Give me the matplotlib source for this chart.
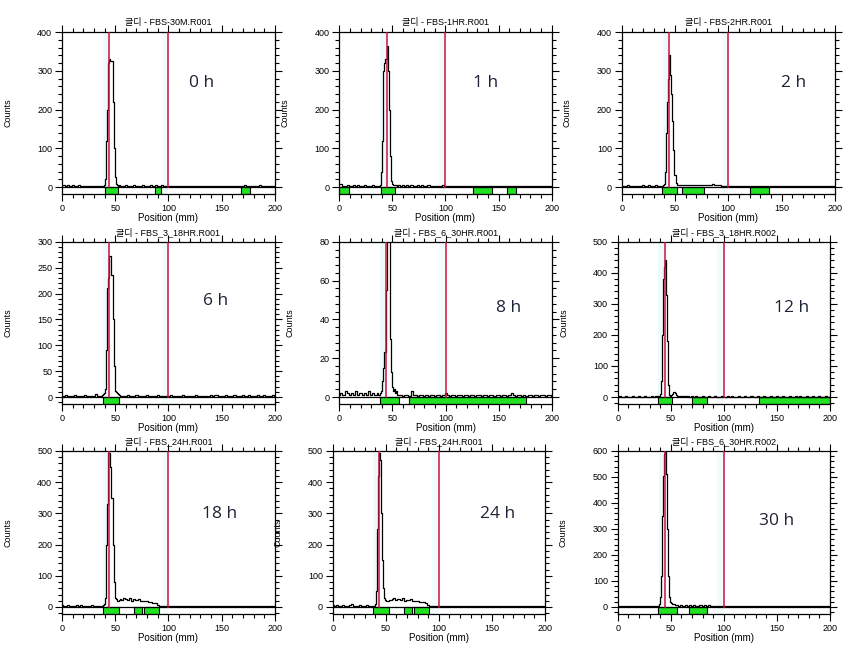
import matplotlib.pyplot as plt
from matplotlib.ticker import MultipleLocator, AutoMinorLocator

plt.rcParams['font.family'] = ['Liberation Sans', 'Noto Sans CJK KR']

# scan positions (mm): coarse on the baseline, 1 mm across the peak
positions = list(range(0, 37, 2)) + list(range(37, 57)) + list(range(58, 201, 2))

titles = ["글디 - FBS-30M.R001", "글디 - FBS-1HR.R001", "글디 - FBS-2HR.R001",
          "글디 - FBS_3_18HR.R001", "글디 - FBS_6_30HR.R001", "글디 - FBS_3_18HR.R002",
          "글디 - FBS_24H.R001", "글디 - FBS_24H.R001", "글디 - FBS_6_30HR.R002"]
time_labels = ["0 h", "1 h", "2 h", "6 h", "8 h", "12 h", "18 h", "24 h", "30 h"]
y_max = [400, 400, 400, 300, 80, 500, 500, 500, 600]
y_major = [100, 100, 100, 50, 20, 100, 100, 100, 100]
origin_mm = [44.4, 44.5, 44.6, 44.4, 44.2, 44.3, 44.4, 43.9, 44.6]
front_mm = [100, 100, 100, 100, 100, 100, 100, 100, 100]

regions = [
    [(40, 53), (87, 93), (168, 177)],
    [(0, 9), (39, 52), (126, 144), (158, 166)],
    [(38, 52), (57, 77), (120, 138)],
    [(39, 54)],
    [(38, 56), (66, 176)],
    [(38, 51), (70, 84), (133, 200)],
    [(39, 54), (68, 75), (77, 91)],
    [(38, 53), (67, 75), (77, 91)],
    [(38, 56), (67, 84)],
]

counts_0h = [6, 5, 4, 6, 3, 5, 4, 3, 5, 2, 4, 3, 4, 2, 3, 4, 2, 3, 3,
             3, 3, 4, 6, 20, 120, 200, 320, 330, 325, 325, 220, 100, 25, 8, 6, 4, 5, 3, 4,
             3, 5, 2, 4, 3, 6, 2, 4, 3, 5, 3, 2, 4, 5, 3, 6, 4, 3, 5, 2,
             4, 3, 2, 3, 4, 2, 3, 2, 4, 3, 2, 3, 2, 4, 2, 3, 2, 3, 2, 4,
             3, 2, 3, 2, 3, 4, 2, 3, 2, 3, 2, 3, 4, 3, 2, 4, 3, 5, 3, 2,
             3, 4, 2, 3, 5, 3, 4, 3, 3, 4, 3, 2]
counts_1h = [8, 7, 4, 3, 5, 3, 4, 5, 3, 6, 4, 3, 5, 3, 4, 3, 5, 4, 3,
             3, 4, 6, 40, 120, 300, 320, 330, 365, 300, 200, 80, 15, 8, 6, 5, 6, 5, 4, 5,
             4, 5, 3, 6, 4, 5, 3, 4, 6, 4, 5, 3, 4, 5, 3, 4, 3, 2, 4, 3,
             5, 3, 2, 4, 3, 2, 3, 4, 2, 3, 2, 3, 4, 2, 3, 2, 3, 2, 4, 3,
             2, 3, 2, 3, 4, 2, 3, 2, 3, 2, 3, 4, 2, 3, 2, 3, 2, 3, 4, 2,
             3, 2, 3, 4, 2, 3, 2, 3, 4, 2, 3, 2]
counts_2h = [2, 4, 3, 5, 2, 4, 3, 2, 4, 3, 5, 3, 4, 6, 3, 4, 5, 3, 4,
             3, 4, 5, 8, 40, 140, 220, 280, 340, 290, 240, 170, 95, 30, 10, 6, 5, 5, 6, 5,
             5, 6, 5, 6, 5, 6, 6, 5, 6, 5, 6, 5, 6, 5, 7, 6, 5, 5, 4, 3,
             3, 2, 3, 2, 3, 4, 2, 3, 2, 3, 2, 3, 2, 3, 2, 4, 2, 3, 2, 3,
             2, 3, 2, 4, 3, 2, 3, 2, 3, 2, 3, 2, 3, 4, 2, 3, 2, 3, 2, 3,
             2, 3, 2, 3, 4, 2, 3, 2, 3, 4, 2, 3]
counts_6h = [2, 1, 3, 2, 1, 2, 3, 1, 2, 2, 1, 3, 2, 1, 2, 2, 6, 2, 1,
             2, 3, 5, 8, 15, 90, 210, 230, 272, 272, 235, 150, 60, 12, 9, 8, 5, 3, 2, 2,
             2, 1, 3, 2, 1, 2, 3, 1, 2, 1, 2, 3, 1, 2, 1, 2, 3, 2, 1, 2,
             1, 2, 3, 1, 2, 1, 2, 1, 3, 2, 1, 2, 1, 2, 3, 1, 2, 1, 2, 1,
             2, 3, 2, 4, 3, 2, 1, 2, 3, 2, 1, 2, 3, 2, 1, 2, 3, 1, 2, 3,
             2, 1, 2, 3, 1, 2, 3, 2, 1, 2, 3, 1]
counts_8h = [1, 2, 1, 3, 2, 1, 2, 1, 3, 1, 2, 1, 2, 1, 3, 1, 2, 1, 2,
             1, 1, 2, 3, 8, 15, 23, 55, 95, 100, 85, 30, 13, 5, 3, 4, 2, 3, 1, 1,
             1, 0.5, 1, 1, 0.5, 3, 1, 1, 0.5, 1, 1, 0.5, 1, 0.5, 1, 1, 0.5, 1, 1, 0.5,
             1, 2, 1, 0.5, 1, 1, 0.5, 1, 1, 0.5, 1, 1, 0.5, 1, 1, 0.5, 1, 1, 0.5, 1,
             1, 0.5, 1, 1, 0.5, 1, 1, 0.5, 1, 1, 0.5, 1, 2, 1, 0.5, 1, 1, 0.5, 1, 0.5,
             1, 1, 0.5, 1, 1, 0.5, 1, 1, 0.5, 1, 1, 0.5]
counts_12h = [1, 2, 1, 1, 2, 1, 1, 2, 1, 1, 2, 1, 1, 2, 1, 1, 2, 1, 2,
              2, 3, 3, 10, 50, 200, 380, 420, 440, 330, 180, 40, 8, 3, 5, 10, 15, 14, 8, 4,
              3, 2, 2, 3, 2, 1, 2, 1, 2, 1, 1, 2, 1, 1, 2, 1, 1, 2, 1, 1,
              2, 1, 1, 2, 1, 2, 1, 1, 2, 1, 1, 2, 1, 1, 2, 1, 1, 2, 1, 1,
              2, 1, 1, 2, 1, 1, 2, 1, 1, 3, 1, 1, 2, 1, 1, 2, 1, 2, 1, 1,
              2, 1, 1, 2, 1, 1, 2, 1, 1, 2, 1, 1]
counts_18h = [5, 4, 3, 5, 4, 3, 4, 5, 3, 8, 4, 3, 4, 3, 5, 4, 3, 4, 3,
              4, 3, 5, 10, 30, 200, 330, 495, 495, 450, 350, 200, 80, 30, 25, 20, 18, 22, 25, 24,
              28, 25, 22, 28, 20, 25, 22, 25, 20, 18, 20, 18, 17, 16, 14, 12, 8, 4, 2, 3,
              2, 3, 4, 2, 3, 2, 3, 4, 2, 3, 2, 3, 2, 4, 3, 2, 3, 2, 3, 2,
              3, 4, 2, 3, 2, 3, 2, 3, 4, 2, 3, 2, 3, 4, 2, 3, 2, 3, 2, 3,
              4, 2, 3, 2, 3, 4, 2, 3, 2, 3, 4, 2]
counts_24h = [6, 4, 5, 3, 4, 5, 3, 4, 5, 10, 4, 3, 4, 5, 3, 4, 5, 3, 4,
              3, 2, 4, 10, 50, 250, 420, 495, 470, 300, 150, 60, 30, 22, 18, 20, 18, 24, 22, 26,
              28, 24, 26, 22, 28, 20, 24, 22, 26, 20, 18, 20, 17, 16, 15, 12, 8, 4, 2, 3,
              2, 3, 4, 2, 3, 2, 3, 2, 4, 3, 2, 3, 2, 3, 2, 4, 3, 2, 3, 2,
              3, 2, 4, 3, 2, 3, 2, 3, 2, 4, 3, 2, 3, 2, 3, 4, 2, 3, 2, 3,
              2, 3, 4, 2, 3, 2, 3, 2, 4, 3, 2, 3]
counts_30h = [5, 4, 3, 5, 4, 3, 4, 3, 5, 4, 3, 4, 3, 5, 4, 3, 4, 3, 4,
              3, 3, 10, 40, 120, 350, 505, 590, 597, 510, 300, 120, 40, 20, 15, 12, 10, 8, 7, 6,
              5, 6, 5, 6, 5, 6, 5, 6, 5, 5, 6, 5, 6, 5, 6, 5, 4, 3, 3, 2,
              3, 4, 2, 3, 2, 3, 2, 3, 4, 2, 3, 2, 3, 2, 3, 4, 2, 3, 2, 3,
              2, 3, 4, 2, 3, 2, 3, 2, 3, 4, 2, 3, 2, 3, 2, 3, 4, 2, 3, 2,
              3, 2, 3, 4, 2, 3, 2, 3, 2, 3, 4, 2]

all_counts = [counts_0h, counts_1h, counts_2h, counts_6h, counts_8h,
              counts_12h, counts_18h, counts_24h, counts_30h]

# axes rectangles in figure fraction (left, bottom, width, height)
rects = [
    (0.0723, 0.701, 0.2485, 0.2496), (0.3959, 0.701, 0.2478, 0.2496), (0.7254, 0.701, 0.2489, 0.2496),
    (0.0723, 0.3775, 0.2485, 0.250), (0.3959, 0.3775, 0.2482, 0.250), (0.7208, 0.3775, 0.2477, 0.250),
    (0.0723, 0.0539, 0.2485, 0.2512), (0.3882, 0.0539, 0.2477, 0.2512), (0.7208, 0.0539, 0.2477, 0.2512),
]
label_xy = [(0.657, 0.685), (0.69, 0.685), (0.808, 0.685),
            (0.723, 0.635), (0.798, 0.593), (0.821, 0.593),
            (0.742, 0.613), (0.779, 0.613), (0.746, 0.571)]

fig = plt.figure(figsize=(8.57, 6.49), dpi=100)

for i in range(9):
    ax = fig.add_axes(rects[i])
    top = y_max[i]
    low = -0.045 * top

    # faint cyan shade next to the marker lines
    ax.axvspan(origin_mm[i] - 6, origin_mm[i], color='#eefbfd', zorder=0, lw=0)
    ax.axvspan(front_mm[i] - 6, front_mm[i], color='#f2fcfd', zorder=0, lw=0)

    for start, end in regions[i]:
        ax.bar(start, low, width=end - start, bottom=0, align='edge',
               color='#22e022', edgecolor='black', linewidth=0.8, zorder=2)

    ax.axhline(0, color='black', lw=0.9, zorder=3)
    ax.plot(positions, all_counts[i], color='black', lw=0.9, drawstyle='steps-mid', zorder=4)
    ax.axvline(origin_mm[i], color='#d0103a', lw=1.1, ymin=-low / (top - low), zorder=5)
    ax.axvline(front_mm[i], color='#d0103a', lw=1.1, ymin=-low / (top - low), zorder=5)

    ax.set_xlim(0, 200)
    ax.set_ylim(low, top)
    ax.xaxis.set_major_locator(MultipleLocator(50))
    ax.xaxis.set_minor_locator(MultipleLocator(10))
    ax.yaxis.set_major_locator(MultipleLocator(y_major[i]))
    ax.yaxis.set_minor_locator(AutoMinorLocator(5))
    ax.tick_params(which='both', direction='out', top=True, right=True,
                   labelsize=6.5, pad=2, width=0.8)
    ax.tick_params(which='major', length=5)
    ax.tick_params(which='minor', length=3)
    for s in ax.spines.values():
        s.set_linewidth(0.9)

    ax.set_title(titles[i], fontsize=6.5, pad=5)
    ax.set_xlabel('Position (mm)', fontsize=7, labelpad=0)
    ax.set_ylabel('Counts', fontsize=6.5, labelpad=18)
    ax.text(label_xy[i][0], label_xy[i][1], time_labels[i], transform=ax.transAxes,
            fontsize=12.5, family=['Open Sans', 'DejaVu Sans'], color='#1e2436',
            ha='center', va='center')

fig.savefig('out.png', dpi=100)
